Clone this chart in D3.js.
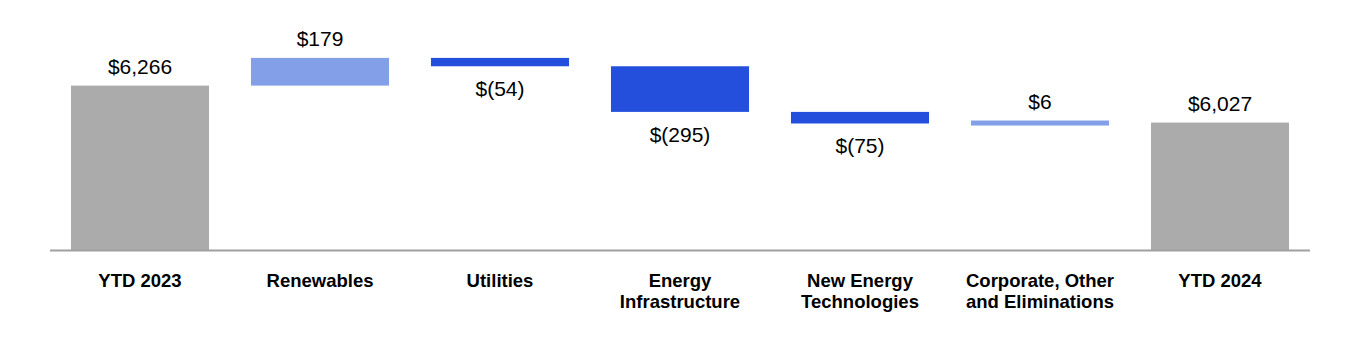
<!DOCTYPE html>
<html><head><meta charset="utf-8">
<script src="https://cdn.jsdelivr.net/npm/d3@7"></script>
<style>body{margin:0;background:#fff;font-family:"Liberation Sans",Arial,sans-serif;}</style>
</head><body><svg id="c" width="1360" height="350"></svg>
<script>
const categories = [["YTD 2023"],["Renewables"],["Utilities"],["Energy","Infrastructure"],["New Energy","Technologies"],["Corporate, Other","and Eliminations"],["YTD 2024"]];
const values = [6266, 179, -54, -295, -75, 6, 6027];
const kinds = ["total","delta","delta","delta","delta","delta","total"];
const valueLabels = ["$6,266","$179","$(54)","$(295)","$(75)","$6","$6,027"];

const svg = d3.select("#c");
const x = d3.scaleBand().domain(d3.range(categories.length)).range([50,1310]).paddingInner(0.233).paddingOuter(0.1165);
const y = d3.scaleLinear().domain([5200,6500]).range([250.5,49.4]);
const colors = {total:"#ababab", up:"#839fe8", down:"#234fdc"};

let run = 0;
const bars = values.map((v,i)=>{
  let start, end, type;
  if(kinds[i]==="total"){ start=5200; end=v; run=v; type="total"; }
  else { start=run; end=run+v; run=end; type = v>=0?"up":"down"; }
  return {i,start,end,type,v};
});

const minH = 5;
bars.forEach(b=>{
  let y0 = y(Math.max(b.start,b.end)), y1 = y(Math.min(b.start,b.end));
  let h = y1-y0;
  if(h<minH){ const c=(y0+y1)/2; y0=c-minH/2; h=minH; y1=y0+h; }
  svg.append("rect").attr("x",x(b.i)).attr("y",y0).attr("width",x.bandwidth()).attr("height",h).attr("fill",colors[b.type]);
  const above = b.type!=="down";
  svg.append("text").attr("x",x(b.i)+x.bandwidth()/2)
    .attr("y", above ? y0-11.5 : y1+30)
    .attr("text-anchor","middle").attr("font-size","21px").attr("fill","#000")
    .text(valueLabels[b.i]);
});

svg.append("line").attr("x1",50).attr("x2",1310).attr("y1",250.5).attr("y2",250.5).attr("stroke","#a0a0a0").attr("stroke-width",2);

categories.forEach((lines,i)=>{
  const t = svg.append("text").attr("x",x(i)+x.bandwidth()/2).attr("y",286.5)
    .attr("text-anchor","middle").attr("font-size","18.5px").attr("font-weight","bold").attr("fill","#000");
  lines.forEach((l,j)=>t.append("tspan").attr("x",x(i)+x.bandwidth()/2).attr("dy",j?21:0).text(l));
});
</script></body></html>
